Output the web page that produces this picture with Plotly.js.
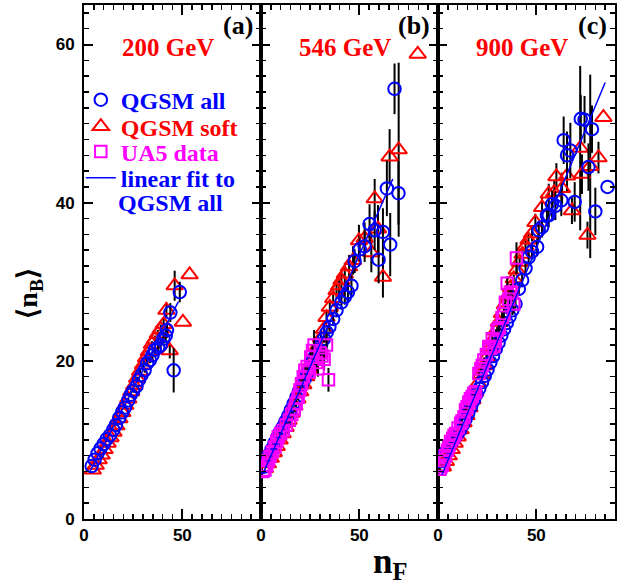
<!DOCTYPE html>
<html><head><meta charset="utf-8">
<script src="https://cdn.plot.ly/plotly-3.0.1.min.js"></script>
<style>html,body{margin:0;padding:0;background:#fff}#chart{width:638px;height:586px}</style>
</head><body><div id="chart"></div>
<script>
// ---------- Panel (a) 200 GeV ----------
const aCircX = [3.9,5.4,6.9,8.4,10.0,11.5,13.2,14.9,16.2,17.9,19.4,20.8,22.5,23.7,25.0,26.7,27.9,29.2,30.8,32.1,33.5,34.8,36.0,37.7,39.0,40.4,41.6,42.2,43.9,45.6,48.7];
const aCircY = [6.7,7.5,8.3,8.9,9.5,10.1,10.6,11.3,11.9,12.8,13.5,14.1,15.0,15.7,16.2,16.8,17.6,18.2,18.8,19.7,20.1,20.7,21.4,21.7,22.0,22.8,23.2,23.9,26.1,18.8,28.7];
const aCircE = [0,0,0,0,0,0,0,0,0.1,0.1,0.1,0.1,0.2,0.2,0.2,0.2,0.3,0.3,0.3,0.4,0.4,0.5,0.5,0.6,0.6,0.7,0.8,1.0,1.2,2.8,1.3];
const aTriX = [4.5,6.0,7.5,9.0,10.5,12.0,13.5,15.0,16.5,18.0,19.5,21.0,22.5,24.0,25.5,27.0,28.5,30.0,31.5,33.0,34.5,36.0,37.5,39.0,40.5,41.9,43.6,46.1,50.3,53.7];
const aTriY = [6.2,6.8,7.5,8.1,8.8,9.6,10.3,11.0,11.8,12.7,13.5,14.4,15.2,16.1,16.9,17.8,18.7,19.5,20.4,21.2,22.1,22.7,23.4,24.0,24.6,26.4,21.3,29.5,24.9,30.9];
const aTriE = [0,0,0,0,0,0,0,0,0,0.1,0.1,0.1,0.1,0.2,0.2,0.2,0.3,0.3,0.3,0.4,0.4,0.5,0.5,0.6,0.7,1.0,1.0,1.9,0,0];
const aFitX = [3, 48];
const aFitY = [6.0, 27.5];

// ---------- Panel (b) 546 GeV ----------
const bCircX = [1.2,2.6,4.0,5.4,6.8,8.2,9.6,11.0,12.4,13.8,15.2,16.6,18.0,19.4,20.8,22.2,23.6,25.0,26.4,27.8,29.2,30.6,32.0,33.4,34.8,36.7,38.4,40.9,42.6,44.2,46.0,47.6,50.2,52.7,55.2,57.8,59.8,62.0,64.0,65.7,67.9,69.9];
const bCircY = [6.6,7.4,8.1,8.8,9.6,10.3,11.0,11.6,12.3,13.0,13.8,14.6,15.4,16.2,17.0,17.7,18.5,19.2,20.0,20.7,21.4,22.1,22.8,23.6,24.3,25.3,26.4,27.4,28.1,28.7,29.5,32.6,34.1,34.5,37.3,36.5,32.8,36.3,41.8,34.7,54.4,41.2];
const bCircE = [0,0,0,0,0,0,0,0,0.1,0.1,0.1,0.1,0.2,0.2,0.2,0.2,0.3,0.3,0.3,0.4,0.4,0.5,0.5,0.6,0.6,0.7,0.8,0.9,1.0,1.2,1.3,1.5,1.5,2.0,2.5,2.5,3.0,3.0,3.5,4.0,3.2,4.0];
const bTriX = [2.0,3.5,5.0,6.5,8.0,9.5,11.0,12.5,14.0,15.5,17.0,18.5,20.0,21.5,23.0,24.5,26.0,27.5,29.0,30.5,32.0,33.3,35.0,36.7,38.4,39.7,40.9,42.6,44.8,46.8,49.8,52.7,56.1,57.8,59.5,62.0,65.4,70.0,79.7];
const bTriY = [6.4,7.0,7.7,8.4,9.2,10.0,10.8,11.6,12.5,13.4,14.3,15.2,16.1,17.0,18.0,19.0,20.0,20.9,21.9,22.9,24.0,25.5,26.8,27.9,28.9,29.5,30.2,31.0,31.9,32.7,35.2,35.5,33.7,40.5,36.7,30.6,45.8,46.7,58.8];
const bTriE = [0,0,0,0,0,0,0,0,0,0.1,0.1,0.1,0.2,0.2,0.2,0.3,0.3,0.3,0.4,0.6,0.7,0.8,0.9,1.0,1.1,1.2,1.3,1.4,1.5,1.8,2.0,2.0,2.5,2.5,3.0,2.6,3.5,11.0,0];
const bSqX = [1.0,2.0,2.9,3.8,4.6,5.8,7.1,8.0,8.8,10.0,11.3,12.8,14.4,15.6,16.9,17.9,18.9,19.8,20.6,21.5,22.3,23.5,24.5,25.3,26.2,27.0,28.2,29.0,30.1,31.0,32.1,33.3,34.3];
const bSqY = [6.0,6.2,6.8,7.4,7.9,8.5,9.1,9.8,10.4,10.8,11.2,11.9,12.5,13.2,13.8,14.6,15.4,16.3,17.1,18.0,18.8,19.3,18.6,20.5,21.3,22.0,19.8,19.0,21.0,20.6,20.2,22.0,17.6];
const bSqE = [0.1,0.1,0.1,0.1,0.1,0.1,0.2,0.2,0.2,0.2,0.2,0.3,0.3,0.3,0.3,0.4,0.4,0.4,0.5,0.5,0.6,0.6,0.7,0.7,0.8,1.9,1.0,1.0,1.2,1.3,1.4,1.5,1.5];
const bFitX = [1.5, 67];
const bFitY = [6.0, 43.0];

// ---------- Panel (c) 900 GeV ----------
const cCircX = [1.5,3.0,4.3,5.6,7.0,8.4,9.8,11.2,12.6,14.0,15.4,16.8,18.2,19.6,21.0,22.4,23.8,25.2,26.6,28.0,29.4,30.8,32.2,33.6,35.0,36.4,37.8,39.4,41.1,42.8,44.5,46.1,47.8,50.4,51.2,52.9,55.4,56.3,58.0,59.7,62.7,63.9,65.6,67.3,69.5,72.6,74.5,76.5,78.3,80.0,86.2];
const cCircY = [7.3,8.1,8.6,9.1,9.7,10.2,10.7,11.2,11.9,12.6,13.4,14.2,15.0,15.8,16.5,17.3,18.1,18.9,19.8,20.6,21.5,22.3,23.2,24.0,24.8,25.6,26.4,27.2,29.1,30.2,31.7,33.1,33.8,34.4,36.5,36.9,38.4,38.4,39.8,39.6,40.3,47.9,46.0,46.6,40.1,50.6,50.5,44.5,49.3,38.9,42.0];
const cCircE = [0,0,0,0,0,0,0,0,0.1,0.1,0.1,0.1,0.1,0.2,0.2,0.2,0.2,0.3,0.3,0.3,0.3,0.4,0.4,0.4,0.5,0.5,0.6,0.6,0.7,0.8,0.8,0.9,1.0,1.1,1.2,1.3,1.4,1.5,1.7,1.8,2.0,3.0,3.0,3.5,2.5,3.0,3.0,3.0,3.0,3.0,0];
const cTriX = [2.5,4.0,5.5,7.0,8.5,10.0,11.5,13.0,14.5,16.0,17.5,19.0,20.5,22.0,23.5,25.0,26.5,28.0,29.5,31.0,32.5,34.0,35.5,37.0,38.5,40.0,41.5,43.0,44.5,46.0,47.8,49.5,52.9,56.3,59.1,60.2,63.1,65.6,68.1,72.3,73.2,76.0,77.4,81.6,84.1];
const cTriY = [6.6,7.3,8.0,8.8,9.6,10.4,11.3,12.2,13.1,14.1,15.1,16.1,17.2,18.3,19.4,20.5,21.6,22.7,23.8,24.9,26.0,27.1,28.2,29.3,30.4,31.5,32.5,33.5,34.5,35.3,36.1,37.5,39.4,41.1,41.3,43.3,41.8,43.4,39.0,46.9,43.6,35.9,44.6,45.7,50.8];
const cTriE = [0,0,0,0,0,0,0,0,0.1,0.1,0.1,0.1,0.1,0.1,0.2,0.2,0.2,0.2,0.2,0.3,0.3,0.3,0.3,0.4,0.5,0.5,0.6,0.7,0.8,0.9,1.0,1.1,1.2,1.3,1.5,1.7,2.0,2.0,1.7,10.4,2.5,1.7,11.6,2.0,0];
const cSqX = [1.0,1.5,2.2,3.0,3.8,4.8,5.5,6.4,7.5,8.2,9.0,10.2,11.5,12.2,13.2,14.0,14.8,15.7,16.5,17.4,18.2,19.1,20.8,21.8,22.5,23.3,24.6,25.8,26.6,27.6,28.4,29.2,30.1,31.2,32.6,33.5,34.3,35.2,35.9,36.8,37.5,38.5,39.9];
const cSqY = [6.3,6.6,6.8,7.4,8.0,8.7,9.2,9.8,10.2,10.6,10.8,11.5,12.1,12.4,12.9,13.8,14.2,14.8,15.2,15.5,15.9,16.1,18.4,19.0,19.4,20.1,20.8,21.8,21.6,22.8,21.8,22.5,23.9,24.2,25.5,26.0,27.4,29.8,27.8,28.7,28.6,27.2,33.0];
const cSqE = [0.1,0.1,0.1,0.1,0.1,0.1,0.1,0.1,0.1,0.1,0.2,0.2,0.2,0.2,0.2,0.2,0.2,0.2,0.2,0.2,0.3,0.3,0.3,0.3,0.3,0.3,0.3,0.3,0.4,0.4,0.4,0.4,0.4,0.5,0.6,0.7,0.8,0.9,1.0,1.0,1.2,1.2,2.0];
const cFitX = [2, 85];
const cFitY = [5.6, 55.2];

// ---------- Text ----------
const panelLabels = ['(a)', '(b)', '(c)'];
const energyLabels = ['200 GeV', '546 GeV', '900 GeV'];
const legendNames = ['QGSM all', 'QGSM soft', 'UA5 data', 'linear fit to', 'QGSM all'];
const xTicks = [0, 50];
const yTicks = [0, 20, 40, 60];

const BLUE = '#0000ff', RED = '#ff0000', MAG = '#ff00ff';
const SERIF = 'Liberation Serif, Times New Roman, serif';
const SANS = 'Liberation Sans, Arial, sans-serif';

function pts(x, y, e, sym, color, size, xa, ya, name, legend, show) {
  return {
    type: 'scatter', mode: 'markers', x: x, y: y, xaxis: xa, yaxis: ya,
    name: name, legend: legend, showlegend: show, cliponaxis: true,
    marker: {symbol: sym, size: size, color: color, line: {color: color, width: 2}},
    error_y: {type: 'data', array: e, visible: true, color: '#000', thickness: 2, width: 0}
  };
}
function fit(x, y, xa, ya, show) {
  return {type: 'scatter', mode: 'lines', x: x, y: y, xaxis: xa, yaxis: ya,
    name: legendNames[3], legend: 'legend4', showlegend: show,
    line: {color: BLUE, width: 1.5}};
}

const data = [
  pts(aTriX, aTriY, aTriE, 'triangle-up-open', RED, 14.5, 'x', 'y', legendNames[1], 'legend2', true),
  pts(aCircX, aCircY, aCircE, 'circle-open', BLUE, 12.5, 'x', 'y', legendNames[0], 'legend', true),
  fit(aFitX, aFitY, 'x', 'y', true),
  pts(bTriX, bTriY, bTriE, 'triangle-up-open', RED, 14.5, 'x2', 'y2', legendNames[1], 'legend2', false),
  pts(bCircX, bCircY, bCircE, 'circle-open', BLUE, 12.5, 'x2', 'y2', legendNames[0], 'legend', false),
  pts(bSqX, bSqY, bSqE, 'square-open', MAG, 11.5, 'x2', 'y2', legendNames[2], 'legend3', true),
  fit(bFitX, bFitY, 'x2', 'y2', false),
  pts(cTriX, cTriY, cTriE, 'triangle-up-open', RED, 14.5, 'x3', 'y3', legendNames[1], 'legend2', false),
  pts(cCircX, cCircY, cCircE, 'circle-open', BLUE, 12.5, 'x3', 'y3', legendNames[0], 'legend', false),
  pts(cSqX, cSqY, cSqE, 'square-open', MAG, 11.5, 'x3', 'y3', legendNames[2], 'legend3', false),
  fit(cFitX, cFitY, 'x3', 'y3', false)
];

const tickFont = {family: SANS, size: 17, color: '#000', weight: 'bold'};
function xax(dom, anchor) {
  return {domain: dom, anchor: anchor, range: [0, 90], tickmode: 'array', tickvals: xTicks,
    ticktext: xTicks.map(String), showline: true, linecolor: '#000', linewidth: 2,
    mirror: 'allticks', ticks: 'inside', ticklen: 10, tickwidth: 2, tickcolor: '#000',
    minor: {dtick: 5, tick0: 0, ticks: 'inside', ticklen: 5, tickwidth: 1.5, tickcolor: '#000'},
    showgrid: false, zeroline: false, tickfont: tickFont, fixedrange: true};
}
function yax(anchor, labels) {
  return {domain: [0, 1], anchor: anchor, range: [0, 65], tickmode: 'array', tickvals: yTicks,
    ticktext: yTicks.map(String), showticklabels: labels, showline: true, linecolor: '#000', linewidth: 2,
    mirror: 'allticks', ticks: 'inside', ticklen: 9, tickwidth: 2, tickcolor: '#000',
    minor: {dtick: 2, tick0: 0, ticks: 'inside', ticklen: 5, tickwidth: 1.5, tickcolor: '#000'},
    showgrid: false, zeroline: false, tickfont: tickFont, ticklabelstandoff: 4, fixedrange: true};
}

function legendCfg(y, color) {
  return {x: -0.006, xanchor: 'left', y: y, yanchor: 'middle', bgcolor: 'rgba(0,0,0,0)',
    borderwidth: 0, itemclick: false, itemdoubleclick: false,
    font: {family: SERIF, size: 24, color: color, weight: 'bold'}};
}

const annotations = [];
['x', 'x2', 'x3'].forEach(function(xa, i) {
  const ya = 'y' + (i === 0 ? '' : (i + 1));
  annotations.push({xref: xa + ' domain', yref: ya + ' domain', x: 0.965, y: 0.961,
    xanchor: 'right', yanchor: 'middle', showarrow: false, text: panelLabels[i],
    font: {family: SERIF, size: 26, color: '#000', weight: 'bold'}});
  annotations.push({xref: xa + ' domain', yref: ya + ' domain', x: 0.475, y: 0.918,
    xanchor: 'center', yanchor: 'middle', showarrow: false, text: energyLabels[i],
    font: {family: SERIF, size: 25, color: RED, weight: 'bold'}});
});
annotations.push({xref: 'paper', yref: 'paper', x: 0.06, y: 0.615, xanchor: 'left', yanchor: 'middle',
  showarrow: false, text: legendNames[4], font: {family: SERIF, size: 24, color: BLUE, weight: 'bold'}});
annotations.push({xref: 'paper', yref: 'paper', x: 0.576, y: -0.086, xanchor: 'center', yanchor: 'middle',
  showarrow: false, text: 'n<sub>F</sub>', font: {family: SERIF, size: 35, color: '#000', weight: 'bold'}});
annotations.push({xref: 'paper', yref: 'paper', x: -0.102, y: 0.44, xanchor: 'center', yanchor: 'middle',
  textangle: -90, showarrow: false, text: '\u27E8n<sub>B</sub>\u27E9',
  font: {family: SERIF, size: 28, color: '#000', weight: 'bold'}});

const layout = {
  width: 638, height: 586,
  margin: {l: 84, r: 23, t: 5, b: 67},
  paper_bgcolor: '#fff', plot_bgcolor: '#fff',
  xaxis: xax([0, 1/3], 'y'), xaxis2: xax([1/3, 2/3], 'y2'), xaxis3: xax([2/3, 1], 'y3'),
  yaxis: yax('x', true), yaxis2: yax('x2', false), yaxis3: yax('x3', false),
  legend: legendCfg(0.815, BLUE),
  legend2: legendCfg(0.763, RED),
  legend3: legendCfg(0.714, MAG),
  legend4: legendCfg(0.663, BLUE),
  annotations: annotations
};

Plotly.newPlot('chart', data, layout, {displayModeBar: false, staticPlot: true});
</script></body></html>
